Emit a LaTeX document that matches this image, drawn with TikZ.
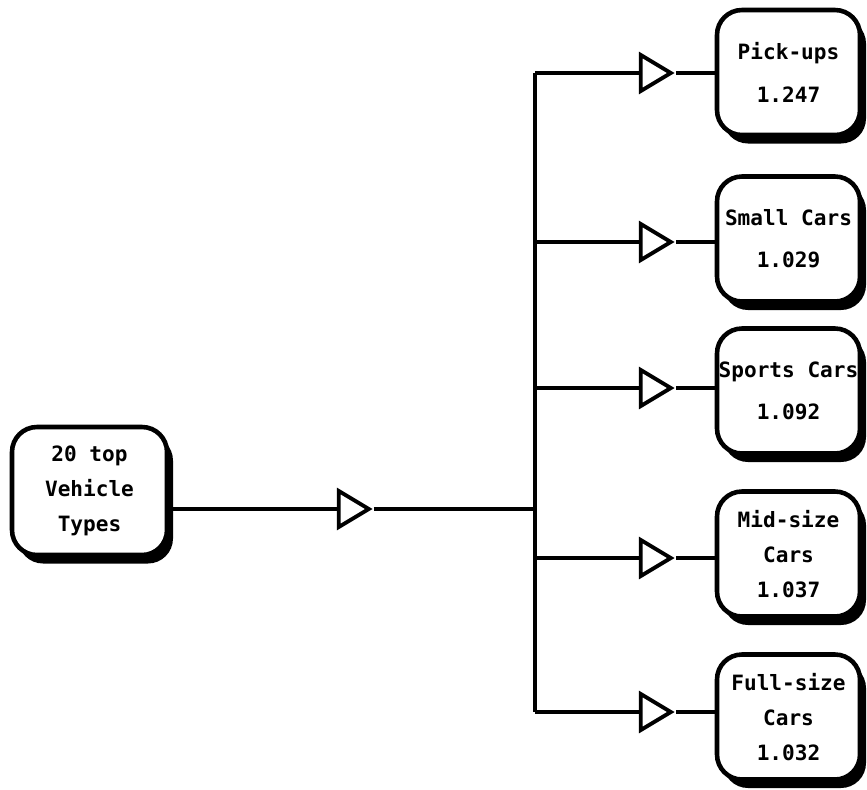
\documentclass[tikz,border=0pt]{standalone}
\usepackage{fontspec}
\setmonofont{DejaVu Sans Mono}
\usetikzlibrary{shapes.geometric,shadows}
\begin{document}
\begin{tikzpicture}[
  box/.style={draw,line width=2.6pt,rounded corners=.5cm,fill=white,
    minimum width=2.86cm,minimum height=2.5cm,inner sep=0pt,align=center,
    font=\ttfamily\bfseries\fontsize{12}{20}\selectfont,
    drop shadow={shadow xshift=.12cm,shadow yshift=-.17cm,fill=black,opacity=1}},
  gate/.style={draw,line width=2.2pt,fill=white,isosceles triangle,
    isosceles triangle stretches,minimum width=.72cm,minimum height=.6cm,
    inner sep=0pt},
  wire/.style={line width=2.2pt}]
\useasboundingbox (0,0) rectangle (17.34,-15.78);
% source
\node[box,minimum width=3.1cm,minimum height=2.56cm] (src) at (1.79,-9.82)
  {20 top\\Vehicle\\Types};
\coordinate (join) at (10.7,-10.18);
\node[gate] (g0) at (6.98,-10.18) {};
\draw[wire] (src.east |- join) -- (g0.west);
\draw[wire] (g0.east) -- (join);
% trunk
\coordinate (t1) at (10.7,-1.46);
\coordinate (t2) at (10.7,-4.84);
\coordinate (t3) at (10.7,-7.76);
\coordinate (t4) at (10.7,-11.16);
\coordinate (t5) at (10.7,-14.24);
\draw[wire] (t1) -- (t5);
% vehicle classes
\node[box] (b1) at (15.77,-1.45)  {Pick-ups\\[4pt]1.247};
\node[box] (b2) at (15.77,-4.78)  {Small Cars\\[4pt]1.029};
\node[box] (b3) at (15.77,-7.82)  {Sports Cars\\[4pt]1.092};
\node[box] (b4) at (15.77,-11.08) {Mid-size\\Cars\\1.037};
\node[box] (b5) at (15.77,-14.34) {Full-size\\Cars\\1.032};
\node[gate] (g1) at (13.02,-1.46)  {};
\node[gate] (g2) at (13.02,-4.84)  {};
\node[gate] (g3) at (13.02,-7.76)  {};
\node[gate] (g4) at (13.02,-11.16) {};
\node[gate] (g5) at (13.02,-14.24) {};
\draw[wire] (t1) -- (g1.west);
\draw[wire] (g1.east) -- (g1.east -| b1.west);
\draw[wire] (t2) -- (g2.west);
\draw[wire] (g2.east) -- (g2.east -| b2.west);
\draw[wire] (t3) -- (g3.west);
\draw[wire] (g3.east) -- (g3.east -| b3.west);
\draw[wire] (t4) -- (g4.west);
\draw[wire] (g4.east) -- (g4.east -| b4.west);
\draw[wire] (t5) -- (g5.west);
\draw[wire] (g5.east) -- (g5.east -| b5.west);
\end{tikzpicture}
\end{document}
